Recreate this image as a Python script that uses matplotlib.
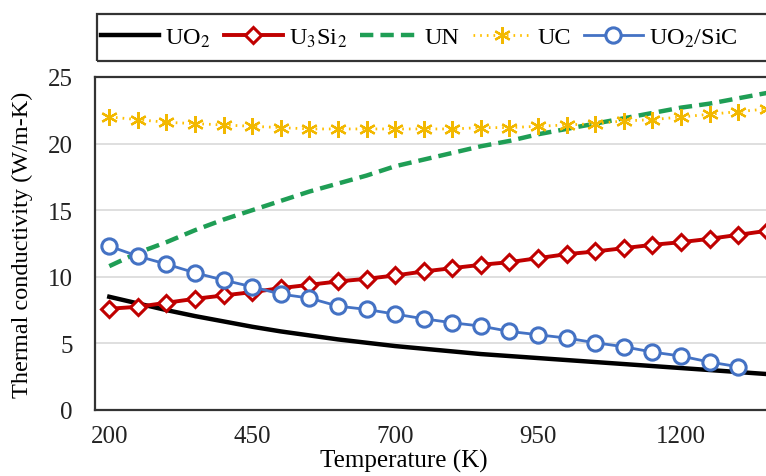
import matplotlib.pyplot as plt
from matplotlib.patches import Rectangle

# データ (温度 K)
temps = [200, 250, 300, 350, 400, 450, 500, 550, 600, 650, 700, 750,
         800, 850, 900, 950, 1000, 1050, 1100, 1150, 1200, 1250, 1300, 1350]

k_uo2 = [8.5, 8.0, 7.5, 7.05, 6.65, 6.25, 5.9, 5.6, 5.3, 5.05, 4.8, 4.6,
         4.4, 4.2, 4.05, 3.9, 3.75, 3.6, 3.45, 3.3, 3.15, 3.0, 2.85, 2.7]
k_u3si2 = [7.6, 7.75, 8.05, 8.35, 8.6, 8.85, 9.15, 9.4, 9.65, 9.85, 10.1, 10.4,
           10.65, 10.9, 11.1, 11.4, 11.7, 11.9, 12.15, 12.4, 12.6, 12.85, 13.15, 13.45]
k_un = [10.8, 11.8, 12.6, 13.5, 14.3, 15.0, 15.7, 16.4, 17.0, 17.6, 18.3, 18.8,
        19.3, 19.8, 20.2, 20.7, 21.1, 21.5, 21.9, 22.3, 22.7, 23.0, 23.4, 23.8]
k_uc = [22.0, 21.8, 21.6, 21.5, 21.4, 21.3, 21.2, 21.1, 21.1, 21.1, 21.1, 21.1,
        21.1, 21.2, 21.2, 21.3, 21.4, 21.5, 21.7, 21.8, 22.0, 22.2, 22.4, 22.6]
temps_sic = temps[:23]
k_uo2_sic = [12.3, 11.55, 10.95, 10.3, 9.75, 9.25, 8.7, 8.4, 7.8, 7.55, 7.2, 6.85,
             6.55, 6.3, 5.9, 5.65, 5.4, 5.05, 4.75, 4.35, 4.05, 3.6, 3.25]

xticks = [200, 450, 700, 950, 1200]

plt.rcParams['font.family'] = ['Liberation Serif', 'DejaVu Serif']
plt.rcParams['mathtext.fontset'] = 'stix'

fig = plt.figure(figsize=(7.66, 4.77), dpi=100)
ax = fig.add_axes([95 / 766, 66 / 477, 686 / 766, 333 / 477])

ax.plot(temps, k_uo2, color='black', lw=3.2, label='UO$_2$', zorder=3)
ax.plot(temps, k_u3si2, color='#C00000', lw=2.8, marker='D', ms=8,
        mfc='white', mec='#C00000', mew=2.2, label='U$_3$Si$_2$', zorder=4)
ax.plot(temps, k_un, color='#1F9E55', lw=3.2, ls=(0, (3, 1.6)), label='UN', zorder=3)
ax.plot(temps, k_uc, color='#FFC000', lw=2, ls=(0, (0.6, 1.8)), marker=(6, 2, 0),
        ms=12, mec='#F2B800', mew=1.6, label='UC', zorder=3)
ax.plot(temps_sic, k_uo2_sic, color='#4472C4', lw=2, marker='o', ms=11,
        mfc='white', mec='#4472C4', mew=2.2, label='UO$_2$/SiC', zorder=4)

ax.set_xlim(175, 1375)
ax.set_ylim(0, 25)
ax.set_xticks(xticks)
ax.set_yticks([0, 5, 10, 15, 20, 25])
ax.grid(axis='y', color='#D9D9D9', lw=1.2)
ax.set_axisbelow(True)
ax.tick_params(length=0, labelsize=18, colors='#222222')
ax.tick_params(axis='y', pad=16)
ax.tick_params(axis='x', pad=11)
for s in ['left', 'bottom', 'top']:
    ax.spines[s].set_linewidth(1.6)
    ax.spines[s].set_color('#333333')
ax.spines['right'].set_visible(False)

ax.set_xlabel('Temperature (K)', fontsize=18)
ax.xaxis.set_label_coords(0.45, -0.117)
ax.set_ylabel('Thermal conductivity (W/m-K)', fontsize=17.5)
ax.yaxis.set_label_coords(-0.09, 0.5)

# 凡例
fig.patches.append(Rectangle((97 / 766, 1 - 62 / 477), 700 / 766, 47 / 477,
                             transform=fig.transFigure, fill=False,
                             ec='#333333', lw=1.6))
fig.legend(loc='center left', bbox_to_anchor=(101 / 766, 1 - 38.5 / 477), ncol=5,
           frameon=False, fontsize=17.5, handlelength=2.4, handletextpad=0.25,
           columnspacing=0.55, borderaxespad=0, borderpad=0)

plt.savefig('out.png', dpi=100)
